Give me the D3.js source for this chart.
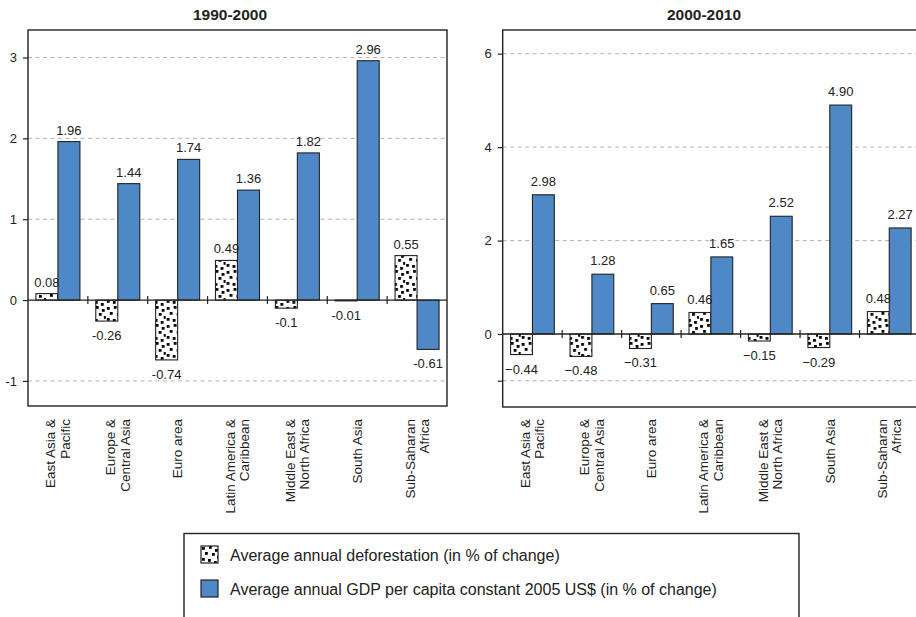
<!DOCTYPE html>
<html>
<head>
<meta charset="utf-8">
<script src="https://cdn.jsdelivr.net/npm/d3@7"></script>
<style>
  body { margin: 0; background: #fff; }
  svg { display: block; font-family: 'Liberation Sans', Arial, sans-serif; }
</style>
</head>
<body>
<svg id="chart"></svg>
<script>
const regions = [
  'East Asia &\nPacific',
  'Europe &\nCentral Asia',
  'Euro area',
  'Latin America &\nCaribbean',
  'Middle East &\nNorth Africa',
  'South Asia',
  'Sub-Saharan\nAfrica'
]
const series = ['deforestation', 'gdp']

// 1990-2000
const deforest1990 = [0.08, -0.26, -0.74, 0.49, -0.1, -0.01, 0.55]
const gdp1990 = [1.96, 1.44, 1.74, 1.36, 1.82, 2.96, -0.61]
const tickLabels1990 = [-1, 0, 1, 2, 3]
const gridLines1990 = [-1, 1, 2, 3]

// 2000-2010
const deforest2000 = [-0.44, -0.48, -0.31, 0.46, -0.15, -0.29, 0.48]
const gdp2000 = [2.98, 1.28, 0.65, 1.65, 2.52, 4.90, 2.27]
const tickLabels2000 = [0, 2, 4, 6]
const gridLines2000 = [-1, 2, 4, 6]

const legendLabels = [
  'Average annual deforestation (in % of change)',
  'Average annual GDP per capita constant 2005 US$ (in % of change)'
]

const width = 916
const height = 617
const blue = '#4f88c7'
const ink = '#222'

const svg = d3.select('#chart')
  .attr('width', width)
  .attr('height', height)

// confetti pattern for the deforestation bars
const defs = svg.append('defs')
const pat = defs.append('pattern')
  .attr('id', 'dots')
  .attr('patternUnits', 'userSpaceOnUse')
  .attr('width', 18)
  .attr('height', 18)
pat.append('rect').attr('width', 18).attr('height', 18).attr('fill', '#fff')
const dotSpots = [[1, 1], [8, 0], [14, 3], [4, 6], [11, 7], [16, 10], [1, 12], [7, 13], [13, 15]]
pat.selectAll('rect.d')
  .data(dotSpots)
  .join('rect')
  .attr('class', 'd')
  .attr('x', d => d[0])
  .attr('y', d => d[1])
  .attr('width', 2.8)
  .attr('height', 2.8)
  .attr('fill', '#000')

const drawPanel = (opts) => {
  const { title, titleX, left, right, top, bottom, domain, defo, gdp, ticks, grid, fmt, posGap } = opts

  const y = d3.scaleLinear().domain(domain).range([bottom, top])
  const x = d3.scaleBand().domain(regions).range([left, right]).paddingInner(0).paddingOuter(0)
  const xi = d3.scaleBand().domain(series).range([0, x.bandwidth()]).paddingInner(0).paddingOuter(0.36)

  const g = svg.append('g')

  g.append('text')
    .attr('x', titleX)
    .attr('y', 20)
    .attr('text-anchor', 'middle')
    .attr('font-weight', 'bold')
    .attr('font-size', '15.5px')
    .attr('fill', ink)
    .text(title)

  g.selectAll('line.grid')
    .data(grid)
    .join('line')
    .attr('class', 'grid')
    .attr('x1', left)
    .attr('x2', right)
    .attr('y1', d => y(d))
    .attr('y2', d => y(d))
    .attr('stroke', '#b4b4b4')
    .attr('stroke-dasharray', '4,3.5')

  const allTicks = Array.from(new Set([...ticks, ...grid])).sort((a, b) => a - b)
  const axis = d3.axisLeft(y)
    .tickValues(allTicks)
    .tickFormat(d => ticks.includes(d) ? d : '')
    .tickSize(5)
    .tickPadding(6)
  const ax = g.append('g')
    .attr('transform', `translate(${left},0)`)
    .call(axis)
  ax.select('.domain').remove()
  ax.selectAll('line').attr('stroke', ink).attr('stroke-width', 1.2)
  ax.selectAll('text').attr('font-size', '13px').attr('fill', ink).attr('font-family', 'Liberation Sans, Arial, sans-serif')

  const groups = g.selectAll('g.grp')
    .data(regions)
    .join('g')
    .attr('class', 'grp')
    .attr('transform', d => `translate(${x(d)},0)`)

  const vals = (d, i) => [
    { key: 'deforestation', v: defo[i] },
    { key: 'gdp', v: gdp[i] }
  ]

  groups.selectAll('rect')
    .data(vals)
    .join('rect')
    .attr('x', d => xi(d.key))
    .attr('width', xi.bandwidth())
    .attr('y', d => y(Math.max(0, d.v)))
    .attr('height', d => Math.abs(y(d.v) - y(0)))
    .attr('fill', d => d.key === 'gdp' ? blue : 'url(#dots)')
    .attr('stroke', ink)
    .attr('stroke-width', 1.1)

  groups.selectAll('text.val')
    .data(vals)
    .join('text')
    .attr('class', 'val')
    .attr('x', d => xi(d.key) + xi.bandwidth() / 2)
    .attr('y', d => d.v >= 0 ? y(d.v) - posGap : y(d.v) + 19)
    .attr('text-anchor', 'middle')
    .attr('font-size', '13px')
    .attr('fill', ink)
    .text(d => fmt(d.v))

  // zero line with category ticks
  g.append('line')
    .attr('x1', left)
    .attr('x2', right)
    .attr('y1', y(0))
    .attr('y2', y(0))
    .attr('stroke', ink)
    .attr('stroke-width', 1.3)

  g.selectAll('line.cat')
    .data(regions.slice(1))
    .join('line')
    .attr('class', 'cat')
    .attr('x1', d => x(d))
    .attr('x2', d => x(d))
    .attr('y1', y(0) - 4)
    .attr('y2', y(0) + 4)
    .attr('stroke', ink)
    .attr('stroke-width', 1.2)

  // frame
  g.append('rect')
    .attr('x', left)
    .attr('y', top)
    .attr('width', right - left)
    .attr('height', bottom - top)
    .attr('fill', 'none')
    .attr('stroke', ink)
    .attr('stroke-width', 1.4)

  // category labels, rotated
  const labels = g.selectAll('text.cat')
    .data(regions)
    .join('text')
    .attr('class', 'cat')
    .attr('transform', d => `translate(${x(d) + x.bandwidth() / 2},419) rotate(-90)`)
    .attr('text-anchor', 'end')
    .attr('font-size', '13.5px')
    .attr('fill', ink)

  labels.selectAll('tspan')
    .data(d => {
      const lines = d.split('\n')
      return lines.map((t, i) => ({ t, off: (i - (lines.length - 1) / 2) * 14.5 }))
    })
    .join('tspan')
    .attr('x', 0)
    .attr('y', d => d.off)
    .attr('dy', '0.35em')
    .text(d => d.t)
}

drawPanel({
  title: '1990-2000', titleX: 230,
  left: 28, right: 447, top: 30, bottom: 406,
  domain: [-1.31, 3.34],
  defo: deforest1990, gdp: gdp1990,
  ticks: tickLabels1990, grid: gridLines1990,
  fmt: d => String(d), posGap: 7
})

drawPanel({
  title: '2000-2010', titleX: 704,
  left: 502.7, right: 919, top: 30, bottom: 407,
  domain: [-1.5625, 6.507],
  defo: deforest2000, gdp: gdp2000,
  ticks: tickLabels2000, grid: gridLines2000,
  fmt: d3.format('.2f'), posGap: 9
})

// legend
const legend = svg.append('g')
legend.append('rect')
  .attr('x', 184)
  .attr('y', 533.5)
  .attr('width', 615)
  .attr('height', 110)
  .attr('fill', 'none')
  .attr('stroke', ink)
  .attr('stroke-width', 1.4)

const items = legend.selectAll('g.item')
  .data(legendLabels)
  .join('g')
  .attr('class', 'item')
  .attr('transform', (_, i) => `translate(201, ${546 + i * 34})`)

items.append('rect')
  .attr('width', 17)
  .attr('height', 17)
  .attr('fill', (_, i) => i === 0 ? 'url(#dots)' : blue)
  .attr('stroke', ink)
  .attr('stroke-width', 1.2)

items.append('text')
  .attr('x', 29)
  .attr('y', 15)
  .attr('font-size', '16px')
  .attr('fill', ink)
  .text(d => d)
</script>
</body>
</html>
